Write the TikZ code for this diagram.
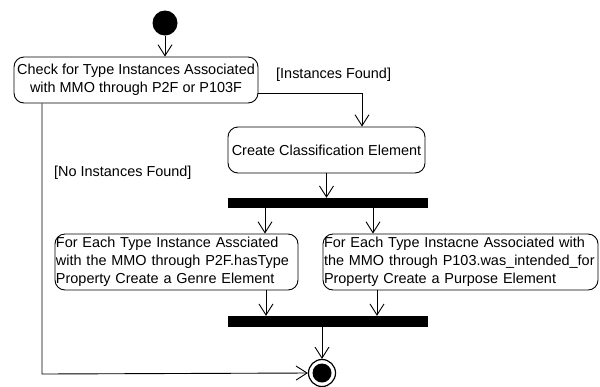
\documentclass[tikz,border=0pt]{standalone}
\usepackage{fontspec}
\setmainfont{Liberation Sans}
\usetikzlibrary{arrows.meta,calc}
\begin{document}
\begin{tikzpicture}[x=1bp,y=-1bp,
  every node/.style={font=\fontsize{14.5}{18}\selectfont},
  action/.style={draw,line width=0.9bp,rounded corners=10bp,inner sep=0pt,align=center},
  leftaction/.style={draw,line width=0.9bp,rounded corners=10bp,inner xsep=1bp,inner ysep=0pt,align=left},
  bar/.style={fill=black,draw=none,inner sep=0pt},
  flow/.style={line width=0.9bp,-{Straight Barb[length=11bp,width=14bp,line width=0.9bp]}},
  guard/.style={inner sep=0pt,anchor=west}]
\useasboundingbox[fill=white] (0,0) rectangle (600,386);

% start and end states
\node[circle,fill=black,minimum size=25bp,inner sep=0pt] (start) at (165,23) {};
\node[circle,draw,line width=1.2bp,minimum size=27bp,inner sep=0pt] (end) at (322,373) {};
\fill (end.center) circle (9.5bp);

% actions
\node[action,minimum width=244bp,minimum height=46bp] (check) at (136,80)
  {Check for Type Instances Associated\\with MMO through P2F or P103F};
\node[action,minimum width=197bp,minimum height=46bp] (classif) at (326.5,150)
  {Create Classification Element};
\node[leftaction,text width=241bp,minimum height=56bp] (genre) at (176.5,262)
  {For Each Type Instance Assciated\\with the MMO through P2F.hasType\\Property Create a Genre Element};
\node[leftaction,text width=273bp,minimum height=56bp] (purpose) at (460.5,262)
  {For Each Type Instacne Associated with\\the MMO through P103.was\_intended\_for\\Property Create a Purpose Element};

% fork and join bars
\node[bar,minimum width=200bp,minimum height=10bp] (fork) at (328,203) {};
\node[bar,minimum width=200bp,minimum height=11bp] (join) at (328,321.5) {};

% guards
\node[guard] (gfound) at (276,75) {[Instances Found]};
\node[guard] (gnone) at (54,173) {[No Instances Found]};

% routing coordinates
\coordinate (cfound) at (362,93);
\coordinate (cnone) at (42,374);
\coordinate (xg) at (265,0);
\coordinate (xp) at (373,0);
\coordinate (xgj) at (266,0);
\coordinate (xpj) at (377,0);
\coordinate (xe) at (322,0);

% connectors
\draw[flow] (start) -- (start.center |- check.north);
\draw[flow] (check.east |- cfound) -| (classif.north -| cfound);
\draw[flow] (classif.south) -- (classif.south |- fork.north);
\draw[flow] (fork.south -| xg) -- (genre.north -| xg);
\draw[flow] (fork.south -| xp) -- (purpose.north -| xp);
\draw[flow] (genre.south -| xgj) -- (join.north -| xgj);
\draw[flow] (purpose.south -| xpj) -- (join.north -| xpj);
\draw[flow] (join.south -| xe) -- (end.north);
\draw[flow] (check.south -| cnone) -- (cnone) -- (end.west);
\end{tikzpicture}
\end{document}
